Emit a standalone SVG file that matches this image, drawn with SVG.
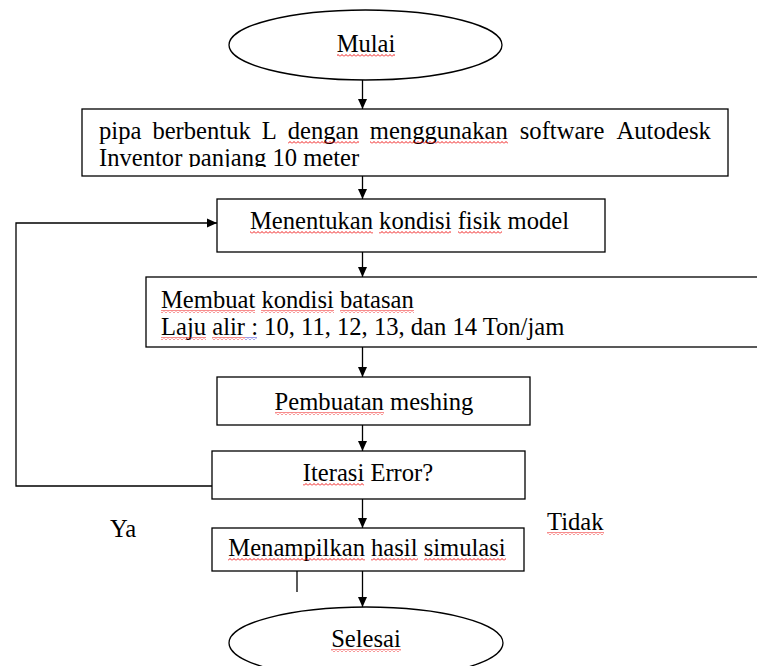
<svg xmlns="http://www.w3.org/2000/svg" width="757" height="666" viewBox="0 0 757 666">
<style>
.box{fill:#fff;stroke:#000;stroke-width:1.3}
.ln{fill:none;stroke:#000;stroke-width:1.3}
text{font-family:'Liberation Serif','Times New Roman',serif;font-size:24.6px;fill:#000}
.c{text-anchor:middle}
.sq{fill:url(#sq)}
.sqb{fill:url(#sqb)}
</style>
<defs>
<pattern id="sq" width="4" height="3" patternUnits="userSpaceOnUse"><polyline points="0,2.5 2,0.5 4,2.5" fill="none" stroke="#e00" stroke-width="0.9"/></pattern>
<pattern id="sqb" width="4" height="3" patternUnits="userSpaceOnUse"><polyline points="0,2.5 2,0.5 4,2.5" fill="none" stroke="#22c" stroke-width="0.9"/></pattern>
<marker id="ah" markerWidth="10" markerHeight="10" refX="10" refY="5" orient="auto" markerUnits="userSpaceOnUse"><path d="M0,0.5 L10,5 L0,9.5 Z" fill="#000"/></marker>
<clipPath id="c1"><rect x="82" y="109" width="644" height="58"/></clipPath>
</defs>

<g id="connectors">
<line class="ln" x1="362.5" y1="80" x2="362.5" y2="109" marker-end="url(#ah)"/>
<line class="ln" x1="362.5" y1="168" x2="362.5" y2="199" marker-end="url(#ah)"/>
<polyline class="ln" points="212,486 16,486 16,223 217,223" marker-end="url(#ah)"/>
<line class="ln" x1="362.5" y1="252" x2="362.5" y2="277" marker-end="url(#ah)"/>
<line class="ln" x1="362.5" y1="347" x2="362.5" y2="377" marker-end="url(#ah)"/>
<line class="ln" x1="362.5" y1="425" x2="362.5" y2="451" marker-end="url(#ah)"/>
<line class="ln" x1="362.5" y1="499" x2="362.5" y2="528" marker-end="url(#ah)"/>
<line class="ln" x1="362.5" y1="571" x2="362.5" y2="607" marker-end="url(#ah)"/>
<line class="ln" x1="297" y1="564" x2="297" y2="592"/>
</g>

<g id="mulai">
<ellipse class="box" cx="365.5" cy="45" rx="136.5" ry="35"/>
<text class="c" x="366" y="52">Mulai</text>
<rect class="sq" x="337" y="54" width="58" height="3"/>
</g>

<g id="pipa">
<rect class="box" x="82" y="109" width="646" height="67"/>
<g clip-path="url(#c1)">
<text y="139"><tspan x="99">pipa</tspan><tspan x="152.4">berbentuk</tspan><tspan x="261.8">L</tspan><tspan x="287.8">dengan</tspan><tspan x="369.8">menggunakan</tspan><tspan x="519.8">software</tspan><tspan x="616.5">Autodesk</tspan></text>
<text x="99" y="166">Inventor panjang 10 meter</text>
</g>
<rect class="sq" x="288" y="141" width="71" height="3"/>
<rect class="sq" x="370" y="141" width="138" height="3"/>
</g>

<g id="kondisi-fisik">
<rect class="box" x="217" y="199" width="388" height="53"/>
<text class="c" x="409.5" y="229">Menentukan kondisi fisik model</text>
<rect class="sq" x="250" y="231" width="123" height="3"/>
<rect class="sq" x="379" y="231" width="72" height="3"/>
<rect class="sq" x="458" y="231" width="44" height="3"/>
</g>

<g id="batasan">
<rect class="box" x="146" y="277" width="620" height="70"/>
<text x="161" y="308">Membuat kondisi batasan</text>
<text x="161" y="335">Laju alir : 10, 11, 12, 13, dan 14 Ton/jam</text>
<rect class="sq" x="161" y="310" width="94" height="3"/>
<rect class="sq" x="261" y="310" width="73" height="3"/>
<rect class="sq" x="340" y="310" width="74" height="3"/>
<rect class="sq" x="161" y="337" width="45" height="3"/>
<rect class="sq" x="212" y="337" width="33" height="3"/>
<rect class="sqb" x="245" y="337" width="12" height="3"/>
</g>

<g id="meshing">
<rect class="box" x="217" y="377" width="313" height="48"/>
<text class="c" x="374" y="410">Pembuatan meshing</text>
<rect class="sq" x="275" y="412" width="109" height="3"/>
</g>

<g id="iterasi">
<rect class="box" x="212" y="451" width="313" height="48"/>
<text class="c" x="368" y="481">Iterasi Error?</text>
<rect class="sq" x="303" y="483" width="61" height="3"/>
</g>

<g id="hasil">
<rect class="box" x="212" y="528" width="312" height="43"/>
<text class="c" x="367" y="556">Menampilkan hasil simulasi</text>
<rect class="sq" x="228" y="558" width="137" height="3"/>
<rect class="sq" x="371" y="558" width="47" height="3"/>
<rect class="sq" x="424" y="558" width="82" height="3"/>
</g>

<g id="selesai">
<ellipse class="box" cx="366" cy="643" rx="137" ry="36"/>
<text class="c" x="366" y="647">Selesai</text>
<rect class="sq" x="331" y="649" width="70" height="3"/>
</g>

<g id="labels">
<text x="110" y="537">Ya</text>
<text x="547" y="530">Tidak</text>
<rect class="sq" x="547" y="532" width="57" height="3"/>
</g>
</svg>
